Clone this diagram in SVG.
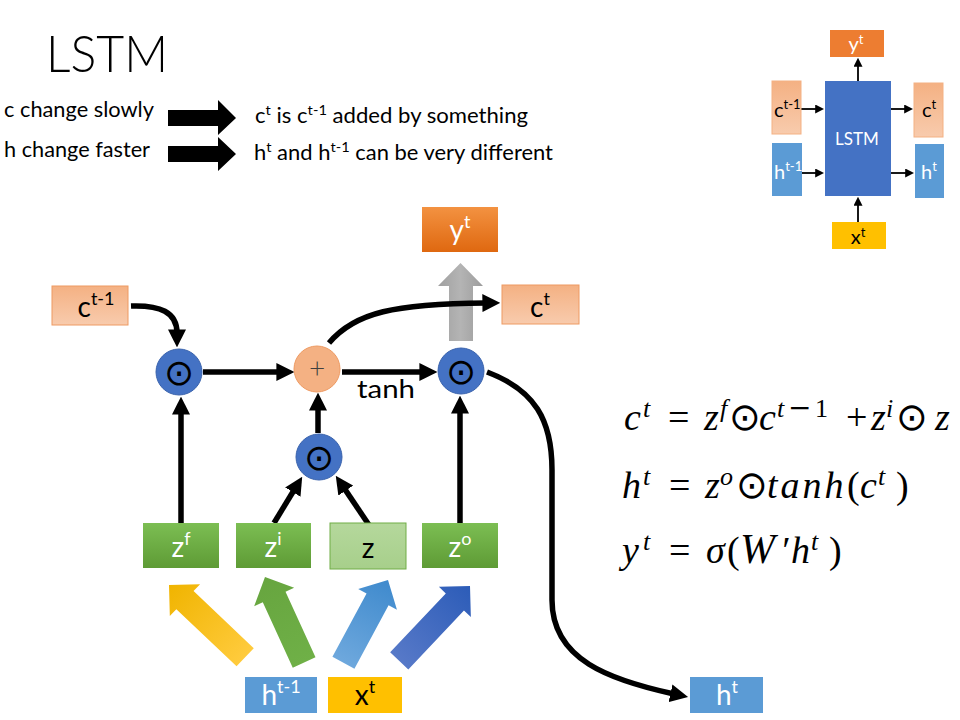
<svg xmlns="http://www.w3.org/2000/svg" width="960" height="720" viewBox="0 0 960 720">
<style>
  text { font-family: Lato, "Open Sans", "Liberation Sans", sans-serif; }
  .lbl { font-size: 28px; text-anchor: middle; }
  .sm { font-size: 20px; text-anchor: middle; }
  .w { fill: #ffffff; }
  .eq { font-family: "Liberation Serif", "DejaVu Serif", serif; font-style: italic; font-size: 38px; fill: #000; }
  .sup { font-size: 26px; }
  .up { font-style: normal; }
  .odot { font-family: "DejaVu Sans", sans-serif; font-style: normal; font-size: 38px; }
  .op { font-family: "DejaVu Sans", sans-serif; font-size: 36px; text-anchor: middle; }
  .conn { fill: none; stroke: #000; stroke-width: 5.5; }
  .thin { fill: none; stroke: #000; stroke-width: 1.8; }
  .gate { fill: #4472C4; stroke: #3A63AD; stroke-width: 1; }
</style>
<defs>
  <marker id="ah" viewBox="0 0 10 10" refX="2" refY="5" markerWidth="18" markerHeight="18" markerUnits="userSpaceOnUse" orient="auto">
    <path d="M0,0 L10,5 L0,10 z" fill="#000"/>
  </marker>
  <marker id="ahs" viewBox="0 0 10 10" refX="2" refY="5" markerWidth="9" markerHeight="9" markerUnits="userSpaceOnUse" orient="auto">
    <path d="M0,0 L10,5 L0,10 z" fill="#000"/>
  </marker>
  <linearGradient id="gSalmon" x1="0" y1="0" x2="0" y2="1">
    <stop offset="0" stop-color="#F4B183"/><stop offset="1" stop-color="#F8CBAD"/>
  </linearGradient>
  <linearGradient id="gOrange" x1="0" y1="0" x2="0" y2="1">
    <stop offset="0" stop-color="#F39241"/><stop offset="1" stop-color="#DF6810"/>
  </linearGradient>
  <linearGradient id="gGreen" x1="0" y1="0" x2="0" y2="1">
    <stop offset="0" stop-color="#7CBE53"/><stop offset="1" stop-color="#5E9B35"/>
  </linearGradient>
  <linearGradient id="gLGreen" x1="0" y1="0" x2="0" y2="1">
    <stop offset="0" stop-color="#B5D89C"/><stop offset="1" stop-color="#A7CF8B"/>
  </linearGradient>
  <linearGradient id="gGray" x1="0" y1="0" x2="1" y2="0">
    <stop offset="0" stop-color="#A0A0A0"/><stop offset="0.5" stop-color="#B4B4B4"/><stop offset="1" stop-color="#9C9C9C"/>
  </linearGradient>
  <linearGradient id="aYellow" x1="0" y1="0" x2="1" y2="0">
    <stop offset="0" stop-color="#FFCB3D"/><stop offset="1" stop-color="#F0B400"/>
  </linearGradient>
  <linearGradient id="aGreen" x1="0" y1="0" x2="1" y2="0">
    <stop offset="0" stop-color="#6FB047"/><stop offset="1" stop-color="#67A53F"/>
  </linearGradient>
  <linearGradient id="aLBlue" x1="0" y1="0" x2="1" y2="0">
    <stop offset="0" stop-color="#6EA8DD"/><stop offset="1" stop-color="#3F8ACD"/>
  </linearGradient>
  <linearGradient id="aDBlue" x1="0" y1="0" x2="1" y2="0">
    <stop offset="0" stop-color="#5779C8"/><stop offset="1" stop-color="#2C5CB8"/>
  </linearGradient>
</defs>

<rect width="960" height="720" fill="#ffffff"/>

<!-- header texts -->
<g id="header">
  <text x="46" y="72" font-size="52" font-weight="300" textLength="122" lengthAdjust="spacingAndGlyphs">LSTM</text>
  <text x="4" y="117" font-size="21" textLength="150" lengthAdjust="spacingAndGlyphs">c change slowly</text>
  <text x="4" y="157" font-size="21" textLength="146" lengthAdjust="spacingAndGlyphs">h change faster</text>
  <polygon points="168,110 218,110 218,100 236,118 218,135 218,126 168,126" fill="#000"/>
  <polygon points="168,146 218,146 218,137 236,154 218,171 218,162 168,162" fill="#000"/>
  <text x="255" y="123" font-size="21" textLength="273" lengthAdjust="spacingAndGlyphs">c<tspan font-size="14" dy="-8">t</tspan><tspan dy="8"> is c</tspan><tspan font-size="14" dy="-8">t-1</tspan><tspan dy="8"> added by something</tspan></text>
  <text x="254" y="160" font-size="21" textLength="299" lengthAdjust="spacingAndGlyphs">h<tspan font-size="14" dy="-8">t</tspan><tspan dy="8"> and h</tspan><tspan font-size="14" dy="-8">t-1</tspan><tspan dy="8"> can be very different</tspan></text>
</g>

<!-- small LSTM overview -->
<g id="mini-connectors">
  <line x1="858" y1="81" x2="858" y2="65" class="thin" marker-end="url(#ahs)"/>
  <line x1="801" y1="109" x2="817" y2="109" class="thin" marker-end="url(#ahs)"/>
  <line x1="802" y1="173" x2="817" y2="173" class="thin" marker-end="url(#ahs)"/>
  <line x1="891" y1="109" x2="906" y2="109" class="thin" marker-end="url(#ahs)"/>
  <line x1="891" y1="173" x2="907" y2="173" class="thin" marker-end="url(#ahs)"/>
  <line x1="858" y1="222" x2="858" y2="204" class="thin" marker-end="url(#ahs)"/>
</g>
<g id="mini-lstm">
  <rect x="825" y="81" width="66" height="115" fill="#4472C4"/>
  <text x="857" y="145" class="w" font-size="17" text-anchor="middle">LSTM</text>
</g>
<g id="mini-yt">
  <rect x="830" y="30" width="54" height="27" fill="#ED7D31"/>
  <text x="856" y="51" class="w sm">y<tspan font-size="13" dy="-7">t</tspan></text>
</g>
<g id="mini-ct1">
  <rect x="772" y="81" width="29" height="53" fill="url(#gSalmon)" stroke="#F4B183" stroke-width="1"/>
  <text x="774" y="117" font-size="20">c<tspan font-size="13" dy="-8">t-1</tspan></text>
</g>
<g id="mini-ht1">
  <rect x="772" y="143" width="30" height="53" fill="#5B9BD5"/>
  <text x="774" y="179" font-size="20" class="w">h<tspan font-size="13" dy="-8">t-1</tspan></text>
</g>
<g id="mini-ct">
  <rect x="914" y="83" width="29" height="54" fill="url(#gSalmon)" stroke="#F4B183" stroke-width="1"/>
  <text x="929" y="117" class="sm">c<tspan font-size="13" dy="-8">t</tspan></text>
</g>
<g id="mini-ht">
  <rect x="915" y="144" width="29" height="54" fill="#5B9BD5"/>
  <text x="929" y="179" class="sm w">h<tspan font-size="13" dy="-8">t</tspan></text>
</g>
<g id="mini-xt">
  <rect x="832" y="222" width="54" height="27" fill="#FFC000"/>
  <text x="858" y="244" class="sm">x<tspan font-size="13" dy="-7">t</tspan></text>
</g>

<!-- big input arrows -->
<g id="input-arrows">
  <polygon transform="translate(169,585) rotate(-136.5)" points="0,0 -22,-22 -22,-12.5 -105,-12.5 -105,12.5 -22,12.5 -22,22" fill="url(#aYellow)"/>
  <polygon transform="translate(265,577) rotate(-114.6)" points="0,0 -22,-22 -22,-12.5 -94,-12.5 -94,12.5 -22,12.5 -22,22" fill="url(#aGreen)"/>
  <polygon transform="translate(388,580) rotate(-61.7)" points="0,0 -22,-22 -22,-12.5 -94,-12.5 -94,12.5 -22,12.5 -22,22" fill="url(#aLBlue)"/>
  <polygon transform="translate(470,586) rotate(-46.6)" points="0,0 -22,-22 -22,-12.5 -103,-12.5 -103,12.5 -22,12.5 -22,22" fill="url(#aDBlue)"/>
</g>

<!-- gray output arrow -->
<g id="output-arrow">
  <polygon points="449,341 449,286 438,286 460.5,263 483,286 473,286 473,341" fill="url(#gGray)"/>
</g>

<!-- connectors -->
<g id="connectors">
  <path class="conn" d="M131,306 C160,305 177,312 177,333" marker-end="url(#ah)"/>
  <path class="conn" d="M203,372 L280,372" marker-end="url(#ah)"/>
  <path class="conn" d="M342,372 L423,372" marker-end="url(#ah)"/>
  <path class="conn" d="M329,343 C355,312 395,304 486,303" marker-end="url(#ah)"/>
  <path class="conn" d="M487,372 C535,390 552,420 552,470 L552,600 C552,660 610,680 674,694" marker-end="url(#ah)"/>
  <path class="conn" d="M181,523 L181,411" marker-end="url(#ah)"/>
  <path class="conn" d="M318,433 L318,407" marker-end="url(#ah)"/>
  <path class="conn" d="M460,523 L460,410" marker-end="url(#ah)"/>
  <path class="conn" d="M274,523 L294.7,489" marker-end="url(#ah)"/>
  <path class="conn" d="M369,525 L343.8,487.6" marker-end="url(#ah)"/>
  <text x="357" y="398" font-size="25" textLength="58" lengthAdjust="spacingAndGlyphs">tanh</text>
</g>

<!-- operators -->
<g id="mult-forget">
  <circle cx="179" cy="372" r="23" class="gate"/>
  <text x="179" y="384.5" class="op">⊙</text>
</g>
<g id="add">
  <circle cx="317" cy="369" r="23" fill="#F4B183" stroke="#EE9A62" stroke-width="1"/>
  <text x="317" y="378" font-size="28" font-weight="300" text-anchor="middle" fill="#404040">+</text>
</g>
<g id="mult-output">
  <circle cx="461" cy="371" r="23" class="gate"/>
  <text x="461" y="383.5" class="op">⊙</text>
</g>
<g id="mult-input">
  <circle cx="319" cy="457" r="23" class="gate"/>
  <text x="319" y="469.5" class="op">⊙</text>
</g>

<!-- boxes -->
<g id="yt">
  <rect x="422" y="207" width="76" height="45" fill="url(#gOrange)"/>
  <text x="460" y="240" class="lbl w">y<tspan font-size="18" dy="-12">t</tspan></text>
</g>
<g id="ct-1">
  <rect x="52" y="286" width="76" height="39" fill="url(#gSalmon)" stroke="#EE9A62" stroke-width="1"/>
  <text x="96" y="317" class="lbl">c<tspan font-size="18" dy="-12">t-1</tspan></text>
</g>
<g id="ct">
  <rect x="502" y="285" width="77" height="39" fill="url(#gSalmon)" stroke="#EE9A62" stroke-width="1"/>
  <text x="540" y="317" class="lbl">c<tspan font-size="18" dy="-12">t</tspan></text>
</g>
<g id="zf">
  <rect x="143" y="523" width="76" height="45" fill="url(#gGreen)"/>
  <text x="181" y="557" class="lbl w">z<tspan font-size="18" dy="-12">f</tspan></text>
</g>
<g id="zi">
  <rect x="236" y="523" width="75" height="45" fill="url(#gGreen)"/>
  <text x="273" y="557" class="lbl w">z<tspan font-size="18" dy="-12">i</tspan></text>
</g>
<g id="z">
  <rect x="330" y="523" width="76" height="46" fill="url(#gLGreen)" stroke="#70AD47" stroke-width="1"/>
  <text x="368" y="558" class="lbl">z</text>
</g>
<g id="zo">
  <rect x="422" y="523" width="76" height="45" fill="url(#gGreen)"/>
  <text x="460" y="557" class="lbl w">z<tspan font-size="18" dy="-12">o</tspan></text>
</g>
<g id="ht-1">
  <rect x="245" y="677" width="72" height="36" fill="#5B9BD5"/>
  <text x="281" y="705" class="lbl w">h<tspan font-size="18" dy="-12">t-1</tspan></text>
</g>
<g id="xt">
  <rect x="328" y="677" width="74" height="36" fill="#FFC000"/>
  <text x="365" y="705" class="lbl">x<tspan font-size="18" dy="-12">t</tspan></text>
</g>
<g id="ht">
  <rect x="690" y="677" width="73" height="36" fill="#5B9BD5"/>
  <text x="727" y="705" class="lbl w">h<tspan font-size="18" dy="-12">t</tspan></text>
</g>

<!-- equations -->
<g id="equations">
  <text class="eq" y="430"><tspan x="624">c</tspan><tspan class="sup" x="643" dy="-13">t</tspan><tspan class="up" x="668" dy="13">=</tspan><tspan x="704">z</tspan><tspan class="sup" x="720" dy="-13">f</tspan><tspan class="odot" x="729" dy="13">⊙</tspan><tspan x="759">c</tspan><tspan class="sup" x="777" dy="-13">t</tspan><tspan class="up" font-family="DejaVu Serif, serif" font-size="28" x="788">−</tspan><tspan class="sup up" x="815">1</tspan><tspan class="up" x="846" dy="13">+</tspan><tspan x="871">z</tspan><tspan class="sup" x="886" dy="-13">i</tspan><tspan class="odot" x="896" dy="13">⊙</tspan><tspan x="935">z</tspan></text>
  <text class="eq" y="498"><tspan x="622">h</tspan><tspan class="sup" x="643" dy="-13">t</tspan><tspan class="up" x="669" dy="13">=</tspan><tspan x="705">z</tspan><tspan class="sup" x="720" dy="-13">o</tspan><tspan class="odot" x="736" dy="13">⊙</tspan><tspan x="767" letter-spacing="3">tanh</tspan><tspan class="up" x="847">(</tspan><tspan x="860">c</tspan><tspan class="sup" x="878" dy="-13">t</tspan><tspan class="up" x="896" dy="13">)</tspan></text>
  <text class="eq" y="563"><tspan x="622">y</tspan><tspan class="sup" x="643" dy="-13">t</tspan><tspan class="up" x="669" dy="13">=</tspan><tspan x="706">σ</tspan><tspan class="up" x="727">(</tspan><tspan x="740" font-size="42">W</tspan><tspan x="780">′</tspan><tspan x="791">h</tspan><tspan class="sup" x="811" dy="-13">t</tspan><tspan class="up" x="829" dy="13">)</tspan></text>
</g>
</svg>
